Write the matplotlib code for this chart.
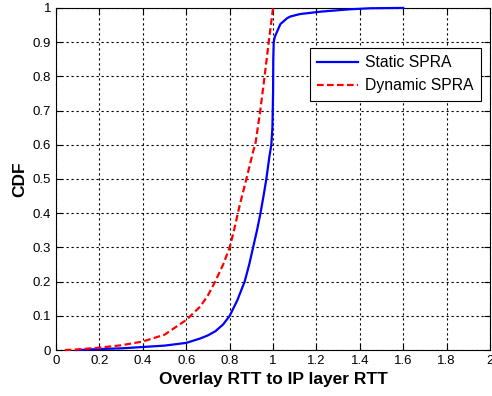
import matplotlib.pyplot as plt
import numpy as np

plt.rcParams['font.family'] = ['Liberation Sans', 'DejaVu Sans']

# static SPRA curve
static_x = [0.095, 0.2, 0.3, 0.4, 0.5, 0.6, 0.665, 0.70, 0.734, 0.77, 0.80, 0.835,
            0.869, 0.89, 0.908, 0.926, 0.942, 0.956, 0.969, 0.983, 0.992, 0.997,
            1.0, 1.001, 1.003, 1.008, 1.018, 1.034, 1.065, 1.08, 1.124, 1.217,
            1.355, 1.45, 1.6]
static_y = [0.0, 0.003, 0.005, 0.009, 0.013, 0.021, 0.034, 0.043, 0.055, 0.075, 0.10, 0.145,
            0.2, 0.25, 0.3, 0.35, 0.4, 0.45, 0.5, 0.565, 0.6, 0.65,
            0.75, 0.85, 0.9, 0.915, 0.93, 0.953, 0.97, 0.975, 0.982, 0.989,
            0.996, 0.999, 1.0]

# dynamic SPRA curve
dynamic_x = [0.04, 0.1, 0.2, 0.3, 0.4, 0.5, 0.6, 0.664, 0.70, 0.733, 0.77, 0.80,
             0.82, 0.845, 0.877, 0.91, 0.918, 0.941, 0.961, 0.98, 1.0]
dynamic_y = [0.0, 0.002, 0.007, 0.014, 0.025, 0.045, 0.088, 0.127, 0.16, 0.2, 0.25, 0.3,
             0.35, 0.42, 0.5, 0.585, 0.6, 0.7, 0.8, 0.9, 1.0]

fig = plt.figure(figsize=(4.92, 3.96), dpi=100)
ax = fig.add_axes([0.114, 0.116, 0.882, 0.864])

ax.plot(static_x, static_y, color='#0000ff', lw=1.6, label='Static SPRA',
        clip_on=False, zorder=3)
ax.plot(dynamic_x, dynamic_y, color='#ff0000', lw=1.6, ls=(0, (3, 1.5)),
        label='Dynamic SPRA', clip_on=False, zorder=3)

ax.set_xlim(0, 2)
ax.set_ylim(0, 1)
ax.set_xticks(np.arange(0, 2.01, 0.2))
ax.set_yticks(np.arange(0, 1.01, 0.1))
ax.set_xticklabels(['0', '0.2', '0.4', '0.6', '0.8', '1', '1.2', '1.4', '1.6', '1.8', '2'])
ax.set_yticklabels(['0', '0.1', '0.2', '0.3', '0.4', '0.5', '0.6', '0.7', '0.8', '0.9', '1'])
ax.tick_params(direction='in', top=True, right=True, labelsize=9.5, length=4)
ax.grid(True, color='black', ls=(0, (2, 2.5)), lw=0.8)
ax.set_xlabel('Overlay RTT to IP layer RTT', fontsize=12.5, fontweight='bold')
ax.set_ylabel('CDF', fontsize=12.5, fontweight='bold')

leg = ax.legend(loc='upper right', bbox_to_anchor=(0.979, 0.884), fontsize=11.3,
                fancybox=False, edgecolor='black', framealpha=1, borderaxespad=0,
                handlelength=2.6, handletextpad=0.4, borderpad=0.5,
                labelspacing=0.5)
leg.get_frame().set_linewidth(0.8)

fig.savefig('out.png', dpi=100)
